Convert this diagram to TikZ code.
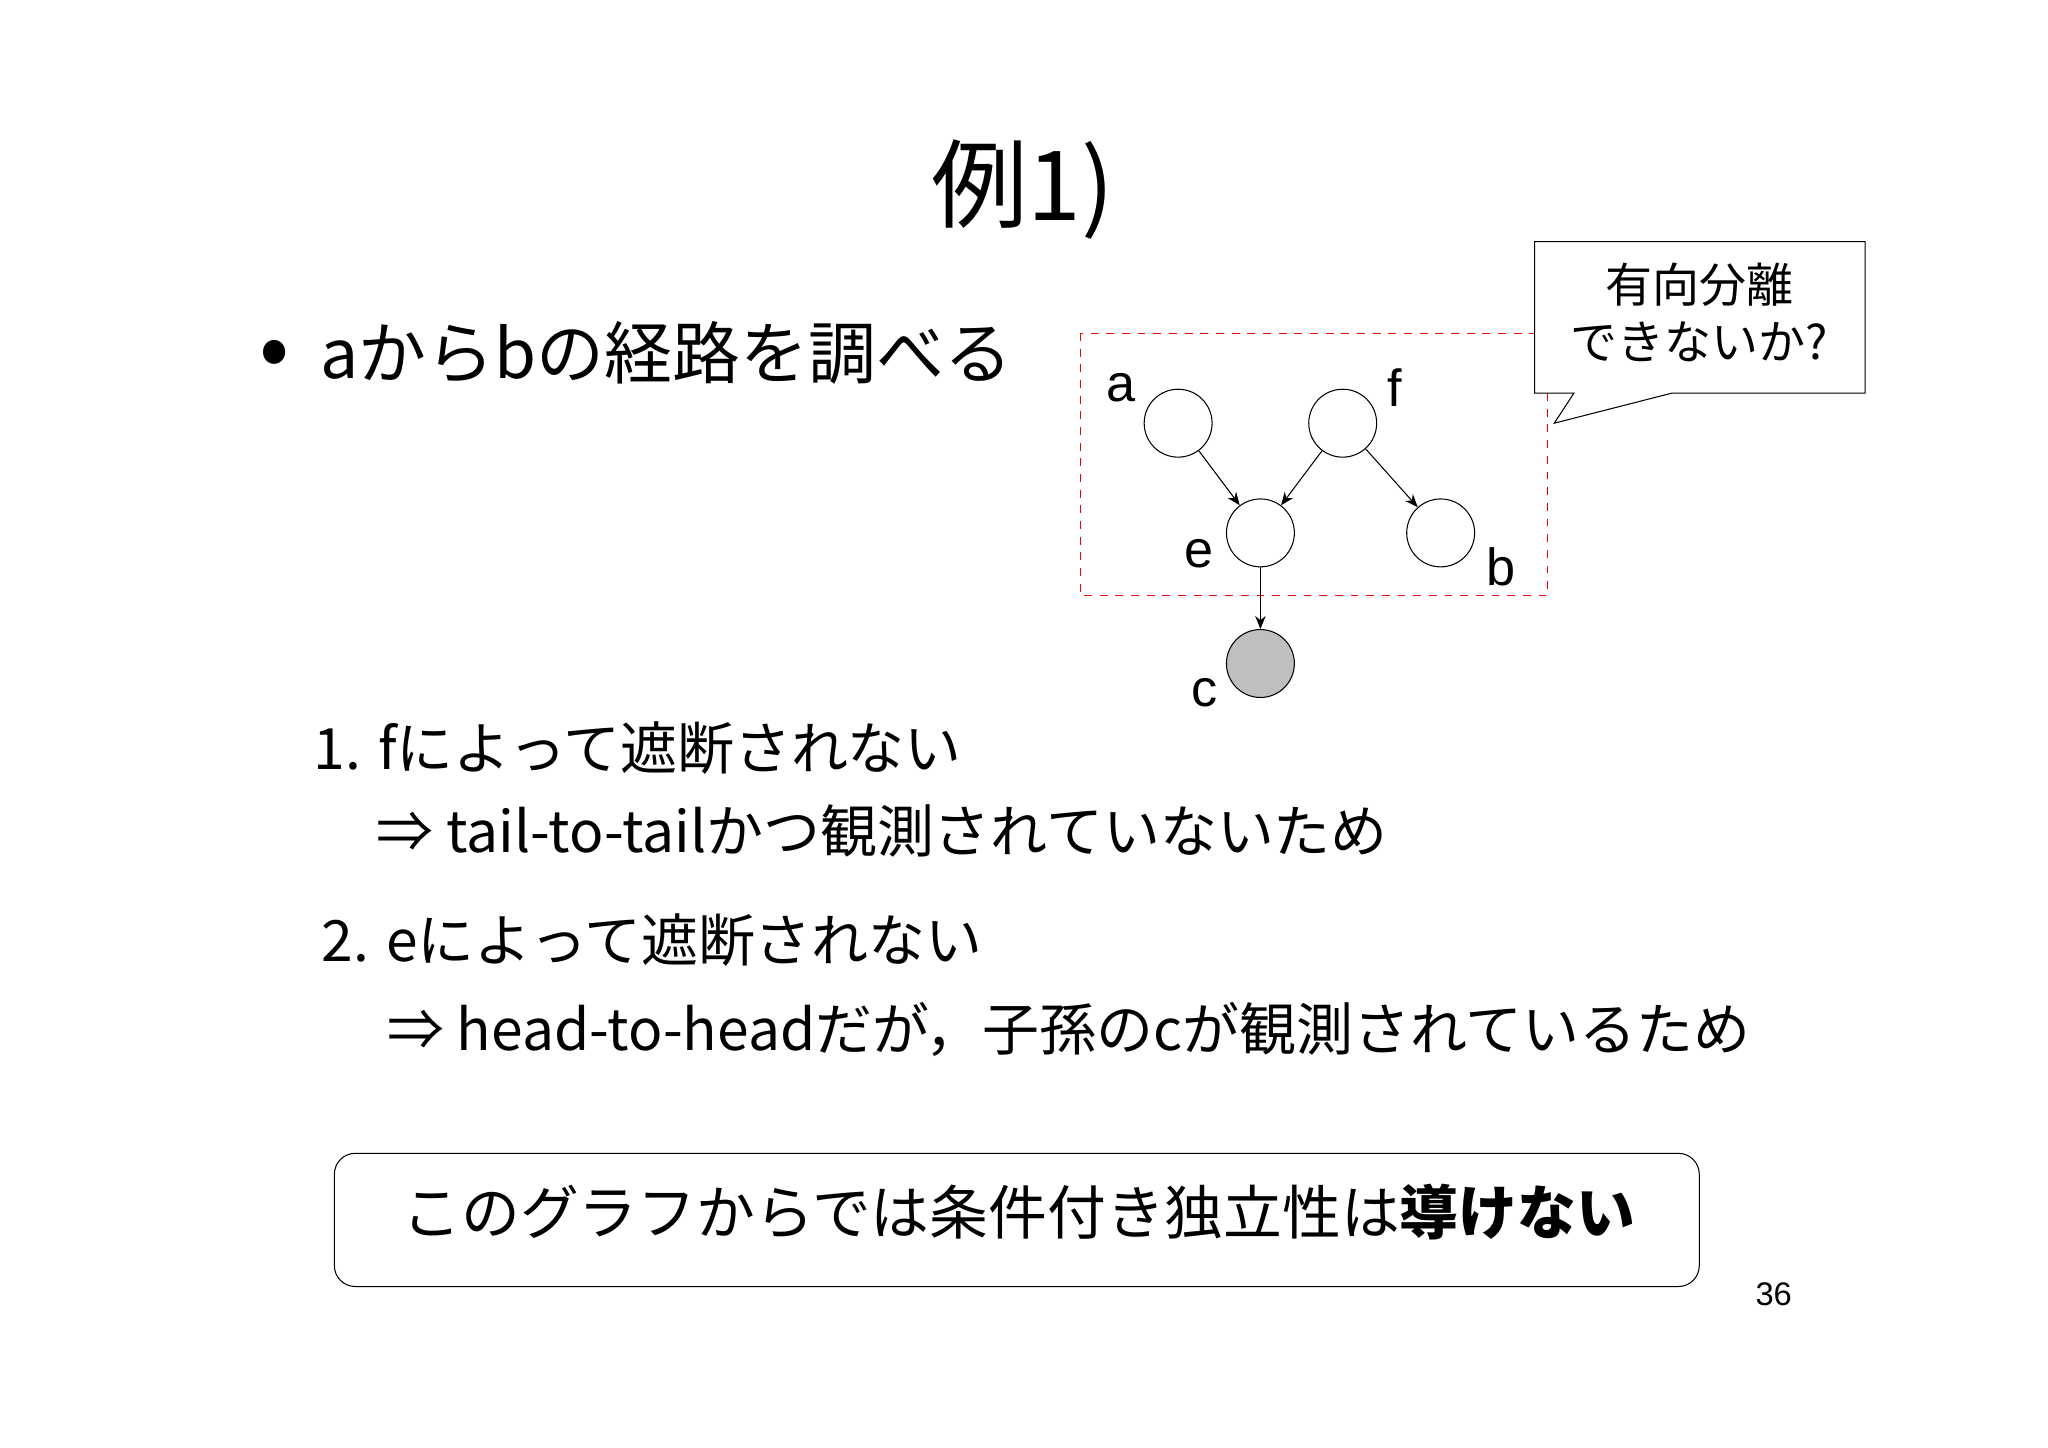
\documentclass[tikz,border=0pt]{standalone}
\usepackage{fontspec}
\setmainfont{Noto Sans CJK JP}
\newfontfamily\latinf{Liberation Sans}
\usetikzlibrary{arrows.meta}
\tikzset{
 vtx/.style={circle,draw,minimum size=26pt,inner sep=0pt},
 lbl/.style={font=\latinf\fontsize{20}{20}\selectfont},
 edge/.style={-{Stealth[length=5pt,width=4pt]},thin},
 ln/.style={anchor=west,font=\fontsize{21.8}{24}\selectfont,inner sep=0pt}
}
\begin{document}
\begin{tikzpicture}[x=0.5pt,y=-0.5pt]
\useasboundingbox (0,0) rectangle (1568,1108);
\node[font=\fontsize{37}{40}\selectfont] (title) at (783,145) {例1)};
\node[anchor=west,font=\fontsize{26}{28}\selectfont,inner sep=0pt] (bul) at (198,270) {{\fontsize{34}{34}\selectfont•}\hspace{12pt}aからbの経路を調べる};
\draw[red,dashed,thin] (827,255) rectangle (1185,456);
\node[vtx] (a) at (902,324) {};
\node[vtx] (f) at (1028,324) {};
\node[vtx] (e) at (965,408) {};
\node[vtx] (b) at (1103,408) {};
\node[vtx,fill=black!25] (c) at (965,508) {};
\node[lbl] (la) at (858,297) {a};
\node[lbl] (lf) at (1068,297) {f};
\node[lbl] (le) at (918,424) {e};
\node[lbl] (lb) at (1149,434) {b};
\node[lbl] (lc) at (922,530) {c};
\draw[edge] (a) -- (e);
\draw[edge] (f) -- (e);
\draw[edge] (f) -- (b);
\draw[edge] (e) -- (c);
\coordinate (tip) at (1190,324);
\draw[fill=white] (1175,185) -- (1428,185) -- (1428,301) -- (1280,301) -- (tip) -- (1205,301) -- (1175,301) -- cycle;
\node[font=\fontsize{18}{22}\selectfont,align=center] (call) at (1301,239) {有向分離\\できないか?};
\node[ln] (l1) at (240,573) {1. fによって遮断されない};
\node[ln] (l2) at (288,636) {⇒ tail-to-tailかつ観測されていないため};
\node[ln] (l3) at (246,720) {2. eによって遮断されない};
\node[ln] (l4) at (296,788) {⇒ head-to-headだが，子孫のcが観測されているため};
\draw[rounded corners=8pt] (256,883) rectangle (1301,985);
\node[font=\fontsize{22.5}{26}\selectfont] (concl) at (780,928) {このグラフからでは条件付き独立性は\textbf{導けない}};
\node[font=\latinf\fontsize{12.5}{14}\selectfont] (pg) at (1358,991) {36};
\end{tikzpicture}
\end{document}
